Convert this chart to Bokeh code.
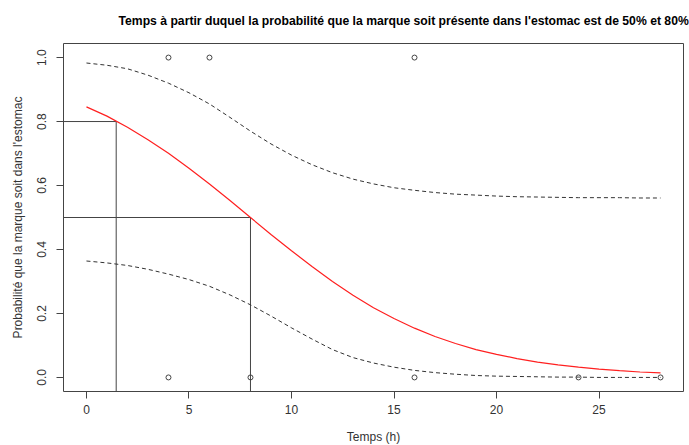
from bokeh.plotting import figure
from bokeh.models import FixedTicker
from bokeh.embed import file_html
from bokeh.resources import INLINE

# Observations
obs_temps = [4, 6, 16, 4, 8, 16, 24, 28]
obs_presence = [1, 1, 1, 0, 0, 0, 0, 0]

# Fitted curve and confidence band
curve_t = list(range(0, 29))
curve_p = [0.846, 0.817, 0.782, 0.743, 0.701, 0.654, 0.605, 0.553, 0.500, 0.447,
           0.396, 0.347, 0.300, 0.257, 0.218, 0.184, 0.154, 0.128, 0.106, 0.087,
           0.072, 0.059, 0.048, 0.039, 0.032, 0.026, 0.021, 0.017, 0.014]
upper_p = [0.983, 0.976, 0.965, 0.945, 0.920, 0.890, 0.855, 0.813, 0.770, 0.730,
           0.695, 0.665, 0.640, 0.620, 0.605, 0.593, 0.585, 0.578, 0.573, 0.570,
           0.567, 0.565, 0.564, 0.563, 0.562, 0.562, 0.562, 0.561, 0.561]
lower_p = [0.364, 0.358, 0.350, 0.338, 0.323, 0.306, 0.285, 0.258, 0.227, 0.192,
           0.155, 0.120, 0.087, 0.062, 0.045, 0.032, 0.022, 0.015, 0.010, 0.006,
           0.004, 0.003, 0.002, 0.001, 0.001, 0.000, 0.000, 0.000, 0.000]

# Thresholds
seuils_p = [0.5, 0.8]
seuils_t = [8.0, 1.45]

x_ticks = [0, 5, 10, 15, 20, 25]
y_ticks = [0.0, 0.2, 0.4, 0.6, 0.8, 1.0]
y_tick_labels = ["0.0", "0.2", "0.4", "0.6", "0.8", "1.0"]

TITRE = ("Temps à partir duquel la probabilité que la marque soit présente "
         "dans l'estomac est de 50% et 80%")

X_MIN, X_MAX = -1.12, 29.12
Y_MIN, Y_MAX = -0.044, 1.044

FONT = "Liberation Sans"
TXT = "#333333"

p = figure(frame_width=620, frame_height=348,
           x_range=(X_MIN, X_MAX), y_range=(Y_MIN, Y_MAX),
           output_backend="svg", toolbar_location=None,
           min_border_left=63, min_border_right=6,
           min_border_top=43, min_border_bottom=54,
           background_fill_color="white", border_fill_color="white")

p.title.text = TITRE
p.title.text_font = FONT
p.title.text_font_size = "12.2px"
p.title.text_font_style = "bold"
p.title.text_color = "black"
p.title.align = "left"
p.title.offset = 55
p.title.vertical_align = "top"
p.title.standoff = 27

p.outline_line_color = "#444444"
p.outline_line_width = 1
p.xgrid.visible = False
p.ygrid.visible = False

for ax in (p.xaxis[0], p.yaxis[0]):
    ax.axis_line_color = None
    ax.major_tick_in = 0
    ax.major_tick_out = 7
    ax.major_tick_line_color = "#444444"
    ax.minor_tick_line_color = None
    ax.major_label_text_font = FONT
    ax.major_label_text_font_size = "12px"
    ax.major_label_text_color = TXT
    ax.axis_label_text_font = FONT
    ax.axis_label_text_font_size = "12px"
    ax.axis_label_text_font_style = "normal"
    ax.axis_label_text_color = TXT

p.xaxis.ticker = FixedTicker(ticks=x_ticks)
p.xaxis.major_label_standoff = 6
p.xaxis.axis_label = "Temps (h)"
p.xaxis.axis_label_standoff = 13

p.yaxis.ticker = FixedTicker(ticks=y_ticks)
p.yaxis.major_label_overrides = {t: l for t, l in zip(y_ticks, y_tick_labels)}
p.yaxis.major_label_orientation = "vertical"
p.yaxis.major_label_standoff = 10
p.yaxis.axis_label = "Probabilité que la marque soit dans l'estomac"
p.yaxis.axis_label_standoff = 10

# Threshold segments
p.segment(x0=[X_MIN] * len(seuils_p), y0=seuils_p, x1=seuils_t, y1=seuils_p,
          line_color="#444444", line_width=1)
p.segment(x0=seuils_t, y0=[Y_MIN] * len(seuils_p), x1=seuils_t, y1=seuils_p,
          line_color="#444444", line_width=1)

# Confidence band
p.line(curve_t, upper_p, line_color="#333333", line_width=1, line_dash="4 3")
p.line(curve_t, lower_p, line_color="#333333", line_width=1, line_dash="4 3")

# Fitted curve
p.line(curve_t, curve_p, line_color="#ff2020", line_width=1.2)

# Observations
p.scatter(obs_temps, obs_presence, marker="circle", size=5,
          fill_color=None, line_color="#444444", line_width=1)

open("out.html", "w").write(file_html(p, INLINE))
